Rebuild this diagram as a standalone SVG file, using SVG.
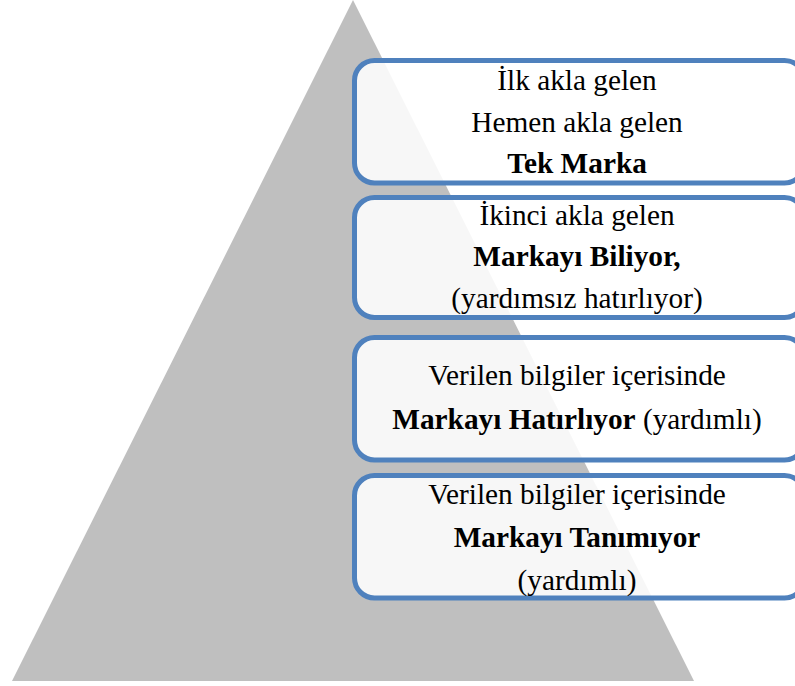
<svg xmlns="http://www.w3.org/2000/svg" width="795" height="686" viewBox="0 0 795 686">
<style>
.box{fill:#ffffff;fill-opacity:0.88;stroke:#4f81bd;stroke-width:5}
.t{font-family:"Liberation Serif","Times New Roman",serif;font-size:29.3px;fill:#000;text-anchor:middle}
.b{font-weight:bold}
</style>
<rect width="795" height="686" fill="#ffffff"/>
<g id="pyramid">
<polygon points="353,0 12,681 694,681" fill="#bfbfbf"/>
</g>
<g id="box1">
<rect class="box" x="354.5" y="60.5" width="450" height="122.5" rx="20" ry="20"/>
<text class="t" x="577" y="89.5">İlk akla gelen</text>
<text class="t" x="577" y="131.5">Hemen akla gelen</text>
<text class="t b" x="577" y="172.5">Tek Marka</text>
</g>
<g id="box2">
<rect class="box" x="354.5" y="197.5" width="450" height="120" rx="20" ry="20"/>
<text class="t" x="577" y="225">İkinci akla gelen</text>
<text class="t b" x="577" y="266">Markayı Biliyor,</text>
<text class="t" x="577" y="308">(yardımsız hatırlıyor)</text>
</g>
<g id="box3">
<rect class="box" x="354.5" y="337.5" width="450" height="122.5" rx="20" ry="20"/>
<text class="t" x="577" y="385">Verilen bilgiler içerisinde</text>
<text class="t" x="577" y="428.5"><tspan class="b">Markayı Hatırlıyor</tspan> (yardımlı)</text>
</g>
<g id="box4">
<rect class="box" x="354.5" y="475.5" width="450" height="122.5" rx="20" ry="20"/>
<text class="t" x="577" y="503.5">Verilen bilgiler içerisinde</text>
<text class="t b" x="577" y="546.5">Markayı Tanımıyor</text>
<text class="t" x="577" y="590">(yardımlı)</text>
</g>
<g id="connectors"></g>
</svg>
